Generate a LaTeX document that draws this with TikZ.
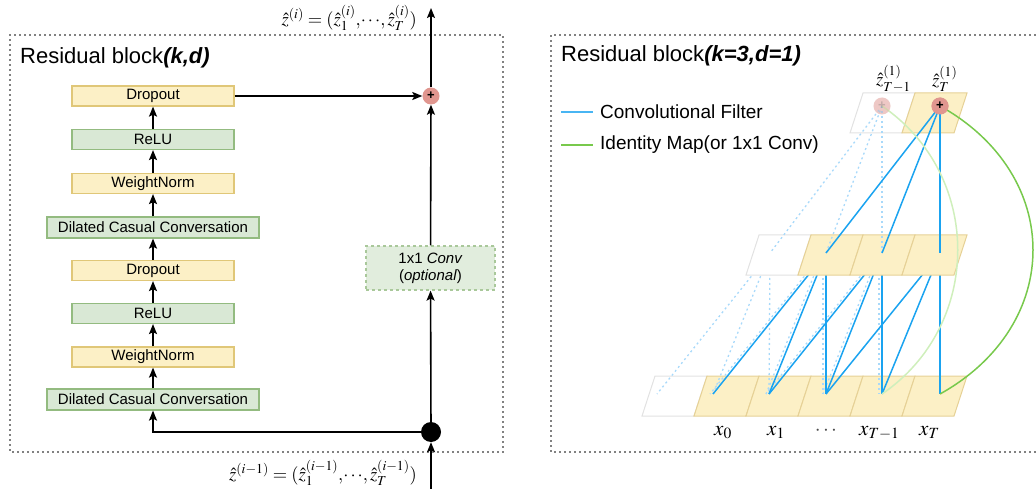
\documentclass[tikz,border=0pt]{standalone}
\usepackage{mathptmx}
\usepackage[no-math]{fontspec}
\setmainfont{Liberation Sans}
\usetikzlibrary{arrows.meta,calc}

\definecolor{yfill}{HTML}{FCF0C6}
\definecolor{ydraw}{HTML}{E0C778}
\definecolor{gfill}{HTML}{D9E8D5}
\definecolor{gdraw}{HTML}{93BB80}
\definecolor{convdraw}{HTML}{A9C89A}
\definecolor{sumfill}{HTML}{E0968F}
\definecolor{filterblue}{HTML}{1AA3F0}
\definecolor{filterfaint}{HTML}{A8D9FA}
\definecolor{idgreen}{HTML}{78C94C}
\definecolor{idfaint}{HTML}{CFEFBC}
\definecolor{celldraw}{HTML}{E6D196}
\definecolor{emptydraw}{HTML}{E2E2E2}

% one skewed cell of a sequence row: bottom-left x, bottom y, style
\newcommand\seqcell[3]{\draw[#3] (#1,#2) -- ++(52,0) -- ++(13,-40) -- ++(-52,0) -- cycle;}

\begin{document}
\begin{tikzpicture}[x=1pt,y=-1pt,
  layer/.style={line width=1.2pt, minimum height=20pt, minimum width=162pt,
    inner sep=0pt, font=\fontsize{15}{18}\selectfont},
  ybox/.style={layer, fill=yfill, draw=ydraw},
  gbox/.style={layer, fill=gfill, draw=gdraw},
  widebox/.style={minimum width=212pt, minimum height=21pt},
  flow/.style={line width=1.6pt, -{Stealth[length=10pt,width=8pt,inset=2pt]}},
  frame/.style={line width=1.7pt, dash pattern=on 0pt off 5pt, line cap=round},
  sum/.style={circle, fill=sumfill, minimum size=17pt, inner sep=0pt,
    font=\fontsize{13}{13}\selectfont\bfseries},
  filter/.style={draw=filterblue, line width=1.5pt},
  faint/.style={draw=filterfaint, line width=1.3pt, dash pattern=on 2pt off 3pt},
  ident/.style={draw=idgreen, line width=1.5pt},
  identfaint/.style={draw=idfaint, line width=1.5pt},
  fullcell/.style={fill=yfill, draw=celldraw, line width=1pt},
  emptycell/.style={fill=white, draw=emptydraw, line width=1pt},
  mathlbl/.style={font=\fontsize{18.5}{21}\selectfont, inner sep=0pt},
  seqlbl/.style={font=\fontsize{21}{23}\selectfont, inner sep=0pt, anchor=base west},
  title/.style={font=\fontsize{22}{26}\selectfont, inner sep=0pt, anchor=base west},
  legend/.style={font=\fontsize{19}{21}\selectfont, inner sep=0pt, anchor=west},
]
\useasboundingbox (0,0) rectangle (1036,489);

%% ---------------- left panel: residual block (k,d) ----------------
\draw[frame] (10,35) rectangle (503,452);
\node[title] (ttlL) at (20,64) {Residual block\textbf{\textit{(k,d)}}};

\node[ybox] (drop1) at (153,96)    {Dropout};
\node[gbox] (relu1) at (153,139.5) {ReLU};
\node[ybox] (wn1)   at (153,183.5) {WeightNorm};
\node[gbox, widebox] (dil1) at (153,227.5) {Dilated Casual Conversation};
\node[ybox] (drop2) at (153,270.5) {Dropout};
\node[gbox] (relu2) at (153,313.5) {ReLU};
\node[ybox] (wn2)   at (153,357)   {WeightNorm};
\node[gbox, widebox] (dil2) at (153,399.5) {Dilated Casual Conversation};

\node[layer, fill=gfill!80!white, draw=convdraw, dashed, minimum width=129pt,
  minimum height=44pt, align=center, font=\fontsize{15}{17}\selectfont]
  (conv) at (430.5,268) {1x1 \textit{Conv}\\(\textit{optional})};

\node[circle, fill=black, minimum size=20pt, inner sep=0pt] (split) at (431,432) {};
\node[sum] (add) at (431,96) {+};
\coordinate (inbot) at (431,489);
\coordinate (outtop) at (431,8);

\draw[flow] (dil2) -- (wn2);
\draw[flow] (wn2) -- (relu2);
\draw[flow] (relu2) -- (drop2);
\draw[flow] (drop2) -- (dil1);
\draw[flow] (dil1) -- (wn1);
\draw[flow] (wn1) -- (relu1);
\draw[flow] (relu1) -- (drop1);
\draw[flow] (drop1) -- (add);
\draw[flow] (split) -| (dil2);
\draw[flow] (split) -- (conv);
\draw[flow] (conv) -- (add);
\draw[flow] (add) -- (outtop);
\draw[flow] (inbot) -- (split);

\node[mathlbl, anchor=east] (zout) at (417,18)
  {$\hat{z}^{(i)} = (\hat{z}^{(i)}_1,\!\cdots\!, \hat{z}^{(i)}_T)$};
\node[mathlbl, anchor=east] (zin) at (417,473)
  {$\hat{z}^{(i-1)} = (\hat{z}^{(i-1)}_1,\!\cdots\!, \hat{z}^{(i-1)}_T)$};

%% ---------------- right panel: residual block (k=3,d=1) ----------------
\draw[frame] (1040,35) -- (551,35) -- (551,452) -- (1040,452);
\node[title] (ttlR) at (561,62) {Residual block\textbf{\textit{(k=3,d=1)}}};

\coordinate (lgA) at (561,112); \coordinate (lgB) at (593,112);
\coordinate (lgC) at (561,145); \coordinate (lgD) at (593,145);
\draw[draw=filterblue!80!white, line width=1.3pt] (lgA) -- (lgB);
\draw[draw=idgreen, line width=1.3pt] (lgC) -- (lgD);
\node[legend] (lgtxt1) at (600,112) {Convolutional Filter};
\node[legend] (lgtxt2) at (600,145) {Identity Map(or 1x1 Conv)};

% sequence positions
\coordinate (b0) at (657,394);
\coordinate (b1) at (713,394);
\coordinate (b2) at (769,394);
\coordinate (b3) at (826,394);
\coordinate (b4) at (882,394);
\coordinate (b5) at (940,394);
\coordinate (m2) at (770,253);
\coordinate (m3) at (826,253);
\coordinate (m4) at (882,253);
\coordinate (m5) at (940,253);

% input row
\seqcell{642}{416}{emptycell}
\foreach \x in {694,746,798,850,902} {\seqcell{\x}{416}{fullcell}}

% hidden layer -> input connections
\draw[faint] (m2) -- (b0);
\draw[faint] (m2) -- (b1);
\draw[faint] (m2) -- (b2);
\foreach \m/\b in {m3/b1,m3/b2,m3/b3,m4/b2,m4/b3,m4/b4}
  {\draw[faint] ($(\m)+(-3,0)$) -- ($(\b)+(-3,0)$);}
\foreach \m/\b in {m3/b1,m3/b2,m3/b3,m4/b2,m4/b3,m4/b4,m5/b3,m5/b4,m5/b5}
  {\draw[filter] (\m) -- (\b);}

% output row and hidden row
\seqcell{850}{133}{emptycell}
\seqcell{902}{133}{fullcell}
\seqcell{746}{275}{emptycell}
\foreach \x in {798,850,902} {\seqcell{\x}{275}{fullcell}}

\node[sum, opacity=0.3] (zprev) at (882,106) {};
\node[sum] (zlast) at (940,106) {};

% output -> hidden layer connections
\draw[faint] (zprev.center) -- (m2);
\draw[faint] (zprev.center) -- (m3);
\draw[faint] (zprev.center) -- (m4);
\draw[filter] (zlast.center) -- (m3);
\draw[filter] (zlast.center) -- (m4);
\draw[filter] (zlast.center) -- (m5);

% identity maps
\draw[identfaint] (zprev.center) .. controls (983,175) and (983,325) .. (b4);
\draw[ident] (zlast.center) .. controls (1064,175) and (1064,325) .. (b5);

\node[sum, opacity=0.3, text=black!60] (zprevtop) at (882,106) {+};
\node[sum] (zlasttop) at (940,106) {+};

\node[mathlbl, anchor=west] (lblprev) at (876,79) {$\hat{z}^{(1)}_{T-1}$};
\node[mathlbl, anchor=west] (lbllast) at (932,79) {$\hat{z}^{(1)}_{T}$};

\node[seqlbl] (x0) at (714,435) {$x_0$};
\node[seqlbl] (x1) at (767,435) {$x_1$};
\node[seqlbl, anchor=center, text=black!70] (xdots) at (826,431) {$\cdots$};
\node[seqlbl] (xT1) at (859,435) {$x_{T-1}$};
\node[seqlbl] (xT) at (919,435) {$x_T$};
\end{tikzpicture}
\end{document}
